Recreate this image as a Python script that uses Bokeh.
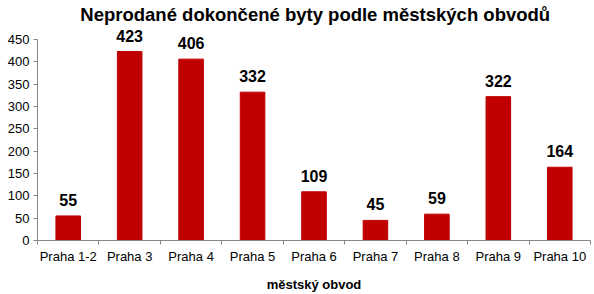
from bokeh.plotting import figure
from bokeh.models import ColumnDataSource, FixedTicker, Range1d, LabelSet, Label
from bokeh.core.properties import value
from bokeh.embed import file_html
from bokeh.resources import INLINE

categories = ["Praha 1-2", "Praha 3", "Praha 4", "Praha 5", "Praha 6",
              "Praha 7", "Praha 8", "Praha 9", "Praha 10"]
values = [55, 423, 406, 332, 109, 45, 59, 322, 164]
y_ticks = [0, 50, 100, 150, 200, 250, 300, 350, 400, 450]
title_text = "Neprodané dokončené byty podle městských obvodů"
x_title = "městský obvod"

FONT = "Liberation Sans"
centers = [i + 0.5 for i in range(len(categories))]
bounds = list(range(len(categories) + 1))

src = ColumnDataSource(dict(x=centers, top=values, lab=[str(v) for v in values]))

p = figure(width=594, height=294, output_backend="svg", toolbar_location=None,
           x_range=Range1d(0, len(categories)), y_range=Range1d(0, 535),
           min_border_left=37, min_border_right=4, min_border_top=1, min_border_bottom=54)
p.outline_line_color = None
p.xgrid.grid_line_color = None
p.ygrid.grid_line_color = None

p.vbar(x="x", top="top", width=0.4, source=src, color="#C00000")

labels = LabelSet(x="x", y="top", text="lab", source=src, text_align="center",
                  text_baseline="bottom", y_offset=10, text_font=value(FONT),
                  text_font_size="16px", text_font_style="bold", text_color="black")
p.add_layout(labels)

title = Label(x=4.52, y=506, text=title_text, text_align="center",
              text_baseline="middle", text_font=FONT, text_font_size="18.5px",
              text_font_style="bold", text_color="black")
p.add_layout(title)

xa = p.xaxis[0]
xa.ticker = FixedTicker(ticks=centers, minor_ticks=bounds)
xa.major_label_overrides = {c: n for c, n in zip(centers, categories)}
xa.major_tick_out = 0
xa.major_tick_in = 0
xa.minor_tick_out = 4
xa.minor_tick_in = 0
xa.minor_tick_line_color = "#868686"
xa.axis_line_color = "#868686"
xa.major_label_text_font = FONT
xa.major_label_text_font_size = "13px"
xa.major_label_text_color = "black"
xa.major_label_standoff = 4
xa.axis_label = x_title
xa.axis_label_text_font = FONT
xa.axis_label_text_font_size = "13px"
xa.axis_label_text_font_style = "bold"
xa.axis_label_text_color = "black"
xa.axis_label_standoff = 10

ya = p.yaxis[0]
ya.ticker = FixedTicker(ticks=y_ticks)
ya.bounds = (0, 450)
ya.minor_tick_line_color = None
ya.major_tick_out = 4
ya.major_tick_in = 0
ya.major_tick_line_color = "#868686"
ya.axis_line_color = "#868686"
ya.major_label_text_font = FONT
ya.major_label_text_font_size = "13px"
ya.major_label_text_color = "black"
ya.major_label_standoff = 4

open("out.html", "w").write(file_html(p, INLINE))
